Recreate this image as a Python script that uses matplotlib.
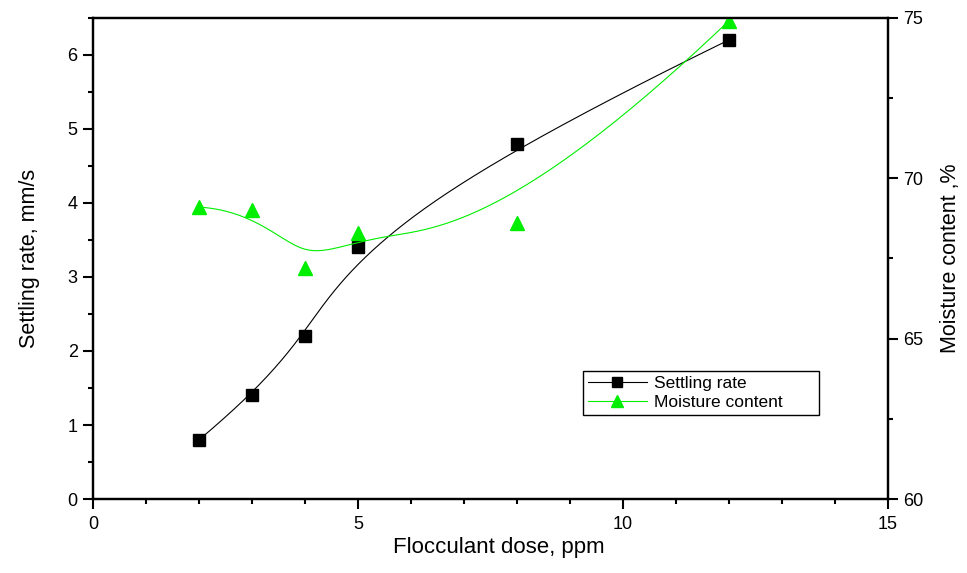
# -*- coding: utf-8 -*-

import numpy as np
from matplotlib import pyplot as plt
from matplotlib.ticker import MultipleLocator

plt.rcParams['font.family'] = ['Liberation Sans', 'DejaVu Sans']

# datos
dosis = [2, 3, 4, 5, 8, 12]
velocidad = [0.8, 1.4, 2.2, 3.4, 4.8, 6.2]
humedad = [69.1, 69.0, 67.2, 68.3, 68.6, 74.9]


# B-spline cúbico con extremos fijos (como el "B-Spline" de Origin)
def base(i, k, t, nodos):
    if k == 0:
        res = ((nodos[i] <= t) & (t < nodos[i + 1])).astype(float)
        if nodos[i + 1] == nodos[-1] and nodos[i] < nodos[i + 1]:
            res[t == nodos[-1]] = 1.0
        return res
    a = 0.0
    b = 0.0
    if nodos[i + k] != nodos[i]:
        a = (t - nodos[i]) / (nodos[i + k] - nodos[i]) * base(i, k - 1, t, nodos)
    if nodos[i + k + 1] != nodos[i + 1]:
        b = (nodos[i + k + 1] - t) / (nodos[i + k + 1] - nodos[i + 1]) * base(i + 1, k - 1, t, nodos)
    return a + b


def bspline(px, py, grado=3, n=400):
    m = len(px)
    internos = np.linspace(0, 1, m - grado + 1)[1:-1]
    nodos = np.concatenate([np.zeros(grado + 1), internos, np.ones(grado + 1)])
    t = np.linspace(0, 1, n)
    x = np.zeros(n)
    y = np.zeros(n)
    for i in range(m):
        B = base(i, grado, t, nodos)
        x += B * px[i]
        y += B * py[i]
    return x, y


fig = plt.figure(figsize=(9.67, 5.73), dpi=100)
ax = fig.add_axes([0.0962, 0.129, 0.8218, 0.840])
ax2 = ax.twinx()

cx, cy = bspline(dosis, velocidad)
ax.plot(cx, cy, color='black', lw=0.8)
ax.plot(dosis, velocidad, 's', color='black', markersize=8.5, ls='none')

hx, hy = bspline(dosis, humedad)
ax2.plot(hx, hy, color='#00ee00', lw=0.8)
ax2.plot(dosis, humedad, '^', color='#00ee00', markersize=10, ls='none')

ax.set_xlim(0, 15)
ax.set_ylim(0, 6.5)
ax2.set_ylim(60, 75)

ax.xaxis.set_major_locator(MultipleLocator(5))
ax.xaxis.set_minor_locator(MultipleLocator(1))
ax.yaxis.set_major_locator(MultipleLocator(1))
ax.yaxis.set_minor_locator(MultipleLocator(0.5))
ax2.yaxis.set_major_locator(MultipleLocator(5))
ax2.yaxis.set_minor_locator(MultipleLocator(2.5))

for a in (ax, ax2):
    for s in a.spines.values():
        s.set_linewidth(1.6)
    a.tick_params(which='major', direction='out', length=7, width=1.5,
                  labelsize=13, pad=4)
    a.tick_params(which='minor', direction='out', length=3.8, width=1.5)
ax.tick_params(top=False, which='both')
ax.tick_params(axis='x', pad=5)

ax.set_xlabel('Flocculant dose, ppm', fontsize=16, labelpad=5)
ax.set_ylabel('Settling rate, mm/s', fontsize=15.5, labelpad=20)
ax2.set_ylabel('Moisture content ,%', fontsize=15.5, labelpad=12)
ax.xaxis.set_label_coords(0.511, -0.078)

l1, = ax.plot([], [], '-s', color='black', lw=0.8, markersize=7)
l2, = ax2.plot([], [], '-^', color='#00ee00', lw=0.8, markersize=8.5)
leg = ax2.legend([l1, l2], ['Settling rate', 'Moisture content'],
                 loc='lower left', bbox_to_anchor=(0.616, 0.174, 0.298, 0.10),
                 mode='expand', fancybox=False, framealpha=1, edgecolor='black',
                 fontsize=12.5, handlelength=3.4, handletextpad=0.4,
                 borderpad=0.3, labelspacing=0.2, borderaxespad=0)
leg.get_frame().set_linewidth(1.0)

plt.savefig('out.png', dpi=100)
